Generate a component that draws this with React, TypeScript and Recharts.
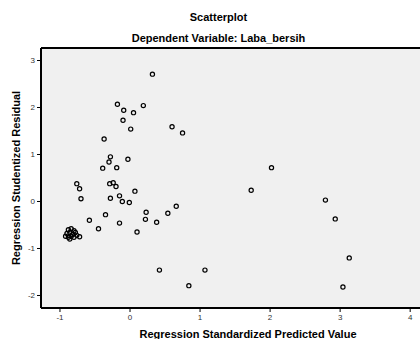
import React from "react";
import { ScatterChart, Scatter, XAxis, YAxis, CartesianGrid, ReferenceLine } from "recharts";

const predicted = [
  0.32, -0.18, 0.19, -0.09, 0.05, -0.10, 0.01, 0.60, 0.75, -0.37,
  -0.28, -0.30, -0.03, -0.39, -0.19, -0.76, -0.72, -0.70, -0.29, -0.24,
  -0.20, -0.15, -0.28, -0.11, -0.01, 0.07, 0.23, 0.22, 0.54, 0.66,
  0.38, -0.35, -0.58, -0.15, -0.45, 0.10, 0.42, 1.07, 0.84, 2.02,
  1.73, 2.79, 2.93, 3.13, 3.04,
  -0.88, -0.84, -0.80, -0.90, -0.86, -0.82, -0.78, -0.92, -0.88, -0.84, -0.80, -0.76, -0.72, -0.86,
];
const residual = [
  2.71, 2.07, 2.04, 1.94, 1.89, 1.73, 1.54, 1.59, 1.46, 1.33,
  0.95, 0.84, 0.90, 0.71, 0.72, 0.38, 0.27, 0.06, 0.38, 0.40,
  0.32, 0.12, 0.07, 0.00, -0.02, 0.22, -0.23, -0.38, -0.25, -0.10,
  -0.44, -0.28, -0.40, -0.46, -0.58, -0.65, -1.46, -1.46, -1.79, 0.72,
  0.24, 0.03, -0.37, -1.20, -1.82,
  -0.60, -0.58, -0.62, -0.68, -0.66, -0.70, -0.66, -0.74, -0.76, -0.74, -0.76, -0.72, -0.75, -0.80,
];
const xTicks = [-1, 0, 1, 2, 3, 4];
const yTicks = [-2, -1, 0, 1, 2, 3];

const data = predicted.map((x, i) => ({ x, y: residual[i] }));

const Ring = (props: any) => {
  const { cx, cy } = props;
  if (cx == null || cy == null) return null;
  return <circle cx={cx} cy={cy} r={2.1} fill="none" stroke="#000" strokeWidth={1.2} />;
};

const titleStyle: React.CSSProperties = {
  position: "absolute",
  left: 0,
  width: 437,
  textAlign: "center",
  fontFamily: "'Liberation Sans', Arial, sans-serif",
  fontWeight: "bold",
  fontSize: 11,
  color: "#000",
  whiteSpace: "nowrap",
};

export default function App() {
  return (
    <div style={{ position: "absolute", left: 0, top: 0, width: 420, height: 339, overflow: "hidden", background: "#fff" }}>
      <div style={{ ...titleStyle, top: 11 }}>Scatterplot</div>
      <div style={{ ...titleStyle, top: 32 }}>Dependent Variable: Laba_bersih</div>
      <div style={{ position: "absolute", left: 0, top: 0 }}>
        <ScatterChart width={465} height={339} margin={{ top: 48, right: 10, bottom: 0, left: 0 }}>
          <CartesianGrid fill="#F0F0F0" horizontal={false} vertical={false} />
          <XAxis
            type="number"
            dataKey="x"
            domain={[-1.271, 4.64]}
            allowDataOverflow
            ticks={xTicks}
            height={31}
            tickSize={4}
            tickMargin={2}
            axisLine={{ stroke: "#000", strokeWidth: 2 }}
            tickLine={{ stroke: "#000" }}
            tick={{ fontSize: 8, fill: "#333", fontFamily: "'Liberation Sans', Arial, sans-serif" }}
            label={{ value: "Regression Standardized Predicted Value", position: "insideBottom", offset: 1, style: { fontSize: 11, fontWeight: "bold", fill: "#000", fontFamily: "'Liberation Sans', Arial, sans-serif" } }}
          />
          <YAxis
            type="number"
            dataKey="y"
            domain={[-2.266, 3.266]}
            allowDataOverflow
            ticks={yTicks}
            width={41}
            tickSize={4}
            tickMargin={2}
            axisLine={{ stroke: "#000", strokeWidth: 2 }}
            tickLine={{ stroke: "#000" }}
            tick={{ fontSize: 8, fill: "#333", fontFamily: "'Liberation Sans', Arial, sans-serif" }}
            label={{ value: "Regression Studentized Residual", angle: -90, position: "insideLeft", offset: 16, style: { textAnchor: "middle", fontSize: 11, fontWeight: "bold", fill: "#000", fontFamily: "'Liberation Sans', Arial, sans-serif" } }}
          />
          <ReferenceLine y={3.266} stroke="#000" strokeWidth={2} ifOverflow="visible" />
          <Scatter data={data} shape={Ring} isAnimationActive={false} />
        </ScatterChart>
      </div>
    </div>
  );
}
